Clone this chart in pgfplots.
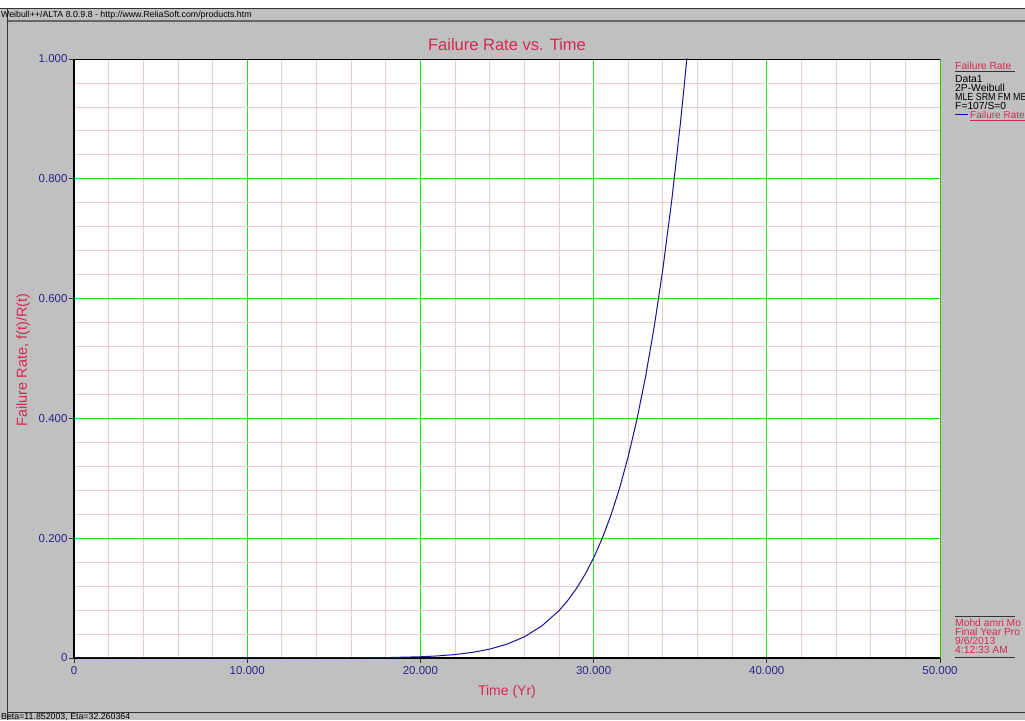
\documentclass[border=0pt]{standalone}
\usepackage{pgfplots}
\pgfplotsset{compat=1.18}
\usepackage{fontspec}
\setmainfont{Liberation Sans}
\definecolor{bg}{RGB}{192,192,192}
\definecolor{crim}{RGB}{214,40,80}
\definecolor{tick}{RGB}{40,40,140}
\definecolor{majg}{RGB}{40,220,40}
\definecolor{ming}{RGB}{238,205,200}
\definecolor{curve}{RGB}{20,20,150}
\begin{document}
\begin{tikzpicture}[x=1pt,y=1pt]
  \useasboundingbox (0,0) rectangle (1025,720);
  \clip (0,0) rectangle (1025,720);
  % frame
  \fill[bg] (0,0) rectangle (1025,712);
  \fill[white] (0,712) rectangle (1025,720);
  \draw[black!80, line width=1pt] (0,711) -- (1025,711);
  \draw[black!60, line width=1.5pt] (7,699) -- (1025,699);
  \draw[black!80, line width=1pt] (7,8) -- (1025,8);
  \draw[black!80, line width=1pt] (7,0) -- (7,711);
  \node[anchor=west, font=\fontsize{8.8}{9}\selectfont, inner sep=0] at (1,705) {Weibull++/ALTA 8.0.9.8 - http://www.ReliaSoft.com/products.htm};
  \node[anchor=west, font=\fontsize{8.8}{9}\selectfont, inner sep=0] at (1,3.5) {Beta=11.852003, Eta=32.260364};

  \begin{axis}[
    at={(74pt,62pt)}, anchor=south west,
    width=866pt, height=599pt, scale only axis,
    xmin=0, xmax=50000, ymin=0, ymax=1,
    axis background/.style={fill=white},
    xtick={0,10000,20000,30000,40000,50000},
    xticklabels={0,10.000,20.000,30.000,40.000,50.000},
    ytick={0,0.2,0.4,0.6,0.8,1},
    yticklabels={0,0.200,0.400,0.600,0.800,1.000},
    minor x tick num=4, minor y tick num=4,
    grid=both,
    major grid style={majg, line width=0.9pt},
    minor grid style={ming, line width=0.8pt},
    axis x line*=bottom, axis y line*=left,
    axis line style={black, line width=1.2pt, -},
    tick align=outside,
    major tick length=5pt, minor tick length=0pt,
    tick style={black!80, line width=0.8pt},
    xtick pos=bottom, ytick pos=left,
    ticklabel style={font=\fontsize{11.5}{12}\selectfont, text=tick},
    yticklabel style={xshift=2pt},
    scaled x ticks=false,
    clip=true,
  ]
    \addplot[curve, line width=1pt] coordinates {
      (0,0) (10000,0.0000011) (15000,0.00009) (18000,0.000654) (20000,0.00205)
      (21000,0.003482) (22000,0.005769) (23000,0.009345) (24000,0.014829)
      (25000,0.023095) (26000,0.035343) (27000,0.05325) (28000,0.07899)
      (28500,0.09572) (29000,0.11561) (29500,0.13917) (30000,0.16702)
      (30500,0.19984) (31000,0.23841) (31500,0.28361) (32000,0.33646)
      (32500,0.39811) (33000,0.46984) (33500,0.55314) (34000,0.64961)
      (34500,0.76115) (35000,0.88974) (35200,0.94650) (35400,1.00655)
    };
    % top and right border
    \draw[black, line width=0.8pt] (axis cs:0,1) -- (axis cs:50000,1) -- (axis cs:50000,0);
  \end{axis}

  % titles
  \node[text=crim, font=\fontsize{16.5}{18}\selectfont] at (507,675) {Failure Rate vs. Time};
  \node[text=crim, font=\fontsize{14}{16}\selectfont] at (507,28) {Time (Yr)};
  \node[text=crim, font=\fontsize{14.5}{16}\selectfont, rotate=90] at (23,360) {Failure Rate, f(t)/R(t)};

  % legend
  \begin{scope}[font=\fontsize{10.3}{10}\selectfont, inner sep=0]
    \node[anchor=base west, text=crim] at (955,650) {Failure Rate};
    \draw[black!80, line width=1pt] (955,648) -- (1015,648);
    \node[anchor=base west] at (955,637) {Data1};
    \node[anchor=base west] at (955,628) {2P-Weibull};
    \node[anchor=base west, xscale=0.86] at (955,619) {MLE SRM FM ME};
    \node[anchor=base west] at (955,610) {F=107/S=0};
    \draw[curve, line width=1pt] (955,605) -- (968,605);
    \node[anchor=base west, text=crim, font=\fontsize{10}{10}\selectfont] at (970,601.5) {Failure Rate};
    \draw[crim, line width=0.6pt] (970,600) -- (1025,600);

    \draw[black!80, line width=1pt] (955,103) -- (1015,103);
    \node[anchor=base west, text=crim] at (955,93) {Mohd amri Mo};
    \node[anchor=base west, text=crim] at (955,84) {Final Year Pro};
    \node[anchor=base west, text=crim] at (955,75) {9/6/2013};
    \node[anchor=base west, text=crim] at (955,66) {4:12:33 AM};
    \draw[black!80, line width=1pt] (955,62) -- (1015,62);
  \end{scope}
\end{tikzpicture}
\end{document}
